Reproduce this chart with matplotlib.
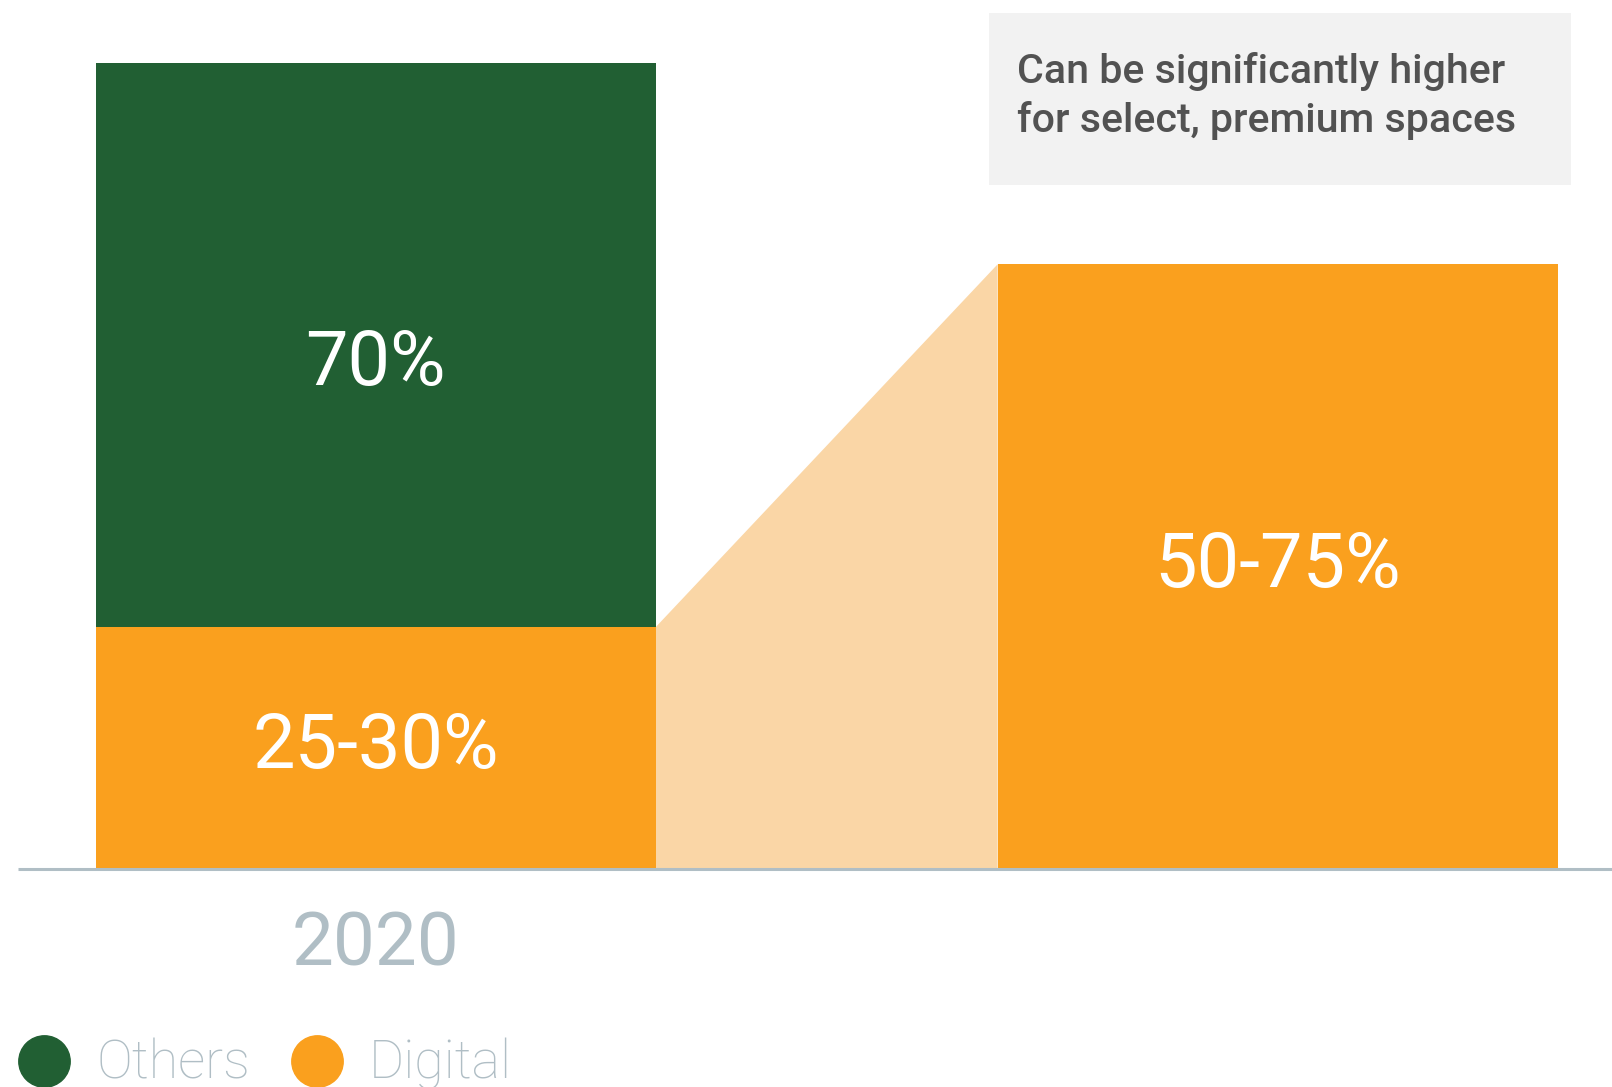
import matplotlib.pyplot as plt
from matplotlib.patches import Polygon, Rectangle

plt.rcParams['font.family'] = ['Roboto', 'DejaVu Sans']

# Data
positions = [0, 1.61]
digital_values = [30, 75]      # bar heights (upper end of each range)
others_values = [70, 0]
digital_labels = ["25-30%", "50-75%"]
others_labels = ["70%", ""]
x_labels = ["2020", ""]
legend_names = ["Others", "Digital"]
note_text = "Can be significantly higher\nfor select, premium spaces"

green = "#215F33"
orange = "#FAA01E"
light_orange = "#FAD6A6"
grey = "#B0BEC5"
bar_w = 1.0

fig = plt.figure(figsize=(16.12, 10.87), dpi=100)
ax = fig.add_axes([0, 0.2008, 1, 0.7415])
ax.set_xlim(-0.6706, 2.2064)
ax.set_ylim(0, 100)
ax.axis("off")

# Bars
ax.bar(positions, digital_values, width=bar_w, color=orange, zorder=2)
ax.bar(positions, others_values, width=bar_w, bottom=digital_values, color=green, zorder=2)

# Shaded connector between the two digital segments
x0 = positions[0] + bar_w / 2
x1 = positions[1] - bar_w / 2
conn = Polygon([(x0, 0), (x0, digital_values[0]), (x1, digital_values[1]), (x1, 0)],
               closed=True, facecolor=light_orange, edgecolor="none", zorder=1)
ax.add_patch(conn)

# Baseline
ax.plot([-0.6376, 2.2064], [0, 0], color=grey, lw=2.2, zorder=3, clip_on=False,
        solid_capstyle="butt")

# Value labels
for i, x in enumerate(positions):
    ax.text(x, digital_values[i] / 2, digital_labels[i], color="white", fontsize=54.5,
            ha="center", va="center", zorder=4)
    if others_labels[i]:
        ax.text(x, digital_values[i] + others_values[i] / 2 - 2.4, others_labels[i],
                color="white", fontsize=54.5, ha="center", va="center", zorder=4)
    if x_labels[i]:
        ax.text(x, -9.5, x_labels[i], color=grey, fontsize=53.7, ha="center", va="center",
                clip_on=False)

# Note box
W, H = 1612, 1087
fig.add_artist(Rectangle((989 / W, 1 - 185 / H), (1571 - 989) / W, (185 - 13.4) / H,
                         transform=fig.transFigure, facecolor="#F2F2F2", edgecolor="none"))
fig.text(1017 / W, 1 - 96 / H, note_text, color="#525252", fontsize=29.6, fontweight="medium",
         ha="left", va="center", linespacing=1.3)

# Legend
leg_colors = [green, orange]
leg_x = [44, 316.6]
for name, c, lx in zip(legend_names, leg_colors, leg_x):
    fig.lines.append(plt.Line2D([lx / W], [1 - 1061 / H], marker="o", markersize=37,
                                color=c, transform=fig.transFigure, linestyle="none"))
    fig.text((lx + 52) / W, 1 - 1064 / H, name, color=grey, fontsize=38.7, fontweight="light",
             ha="left", va="center")

fig.savefig("out.png", dpi=100)
